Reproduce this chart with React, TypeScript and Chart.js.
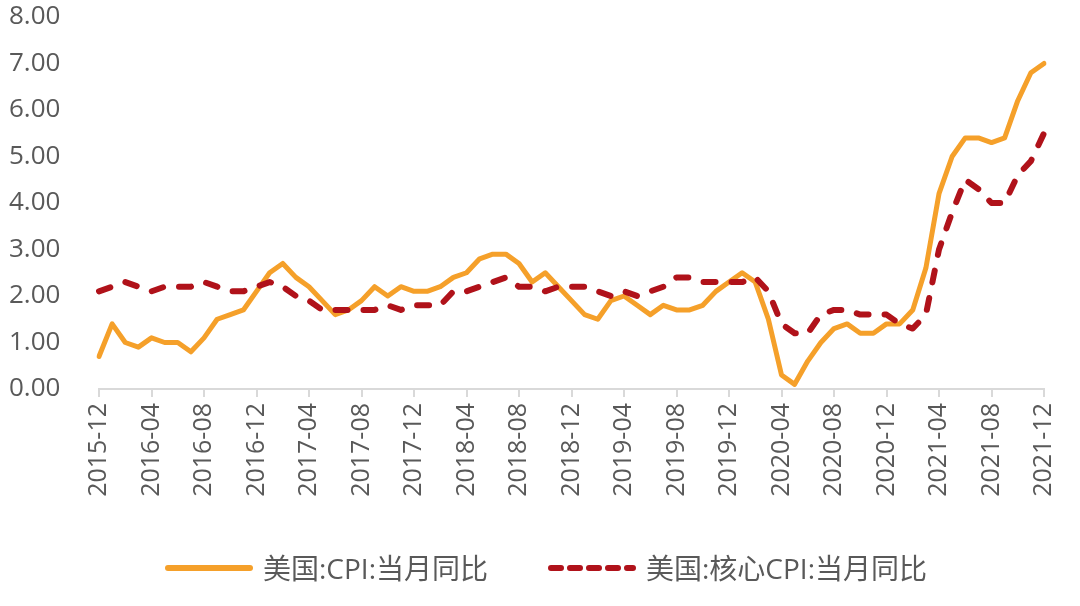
import React, { useEffect, useRef } from "react";
import { Chart, registerables } from "chart.js";

Chart.register(...registerables);

const months: string[] = [
  "2015-12",
  "2016-01", "2016-02", "2016-03", "2016-04", "2016-05", "2016-06", "2016-07", "2016-08", "2016-09", "2016-10", "2016-11", "2016-12",
  "2017-01", "2017-02", "2017-03", "2017-04", "2017-05", "2017-06", "2017-07", "2017-08", "2017-09", "2017-10", "2017-11", "2017-12",
  "2018-01", "2018-02", "2018-03", "2018-04", "2018-05", "2018-06", "2018-07", "2018-08", "2018-09", "2018-10", "2018-11", "2018-12",
  "2019-01", "2019-02", "2019-03", "2019-04", "2019-05", "2019-06", "2019-07", "2019-08", "2019-09", "2019-10", "2019-11", "2019-12",
  "2020-01", "2020-02", "2020-03", "2020-04", "2020-05", "2020-06", "2020-07", "2020-08", "2020-09", "2020-10", "2020-11", "2020-12",
  "2021-01", "2021-02", "2021-03", "2021-04", "2021-05", "2021-06", "2021-07", "2021-08", "2021-09", "2021-10", "2021-11", "2021-12",
];

const cpiYoY: number[] = [
  0.7,
  1.4, 1.0, 0.9, 1.1, 1.0, 1.0, 0.8, 1.1, 1.5, 1.6, 1.7, 2.1,
  2.5, 2.7, 2.4, 2.2, 1.9, 1.6, 1.7, 1.9, 2.2, 2.0, 2.2, 2.1,
  2.1, 2.2, 2.4, 2.5, 2.8, 2.9, 2.9, 2.7, 2.3, 2.5, 2.2, 1.9,
  1.6, 1.5, 1.9, 2.0, 1.8, 1.6, 1.8, 1.7, 1.7, 1.8, 2.1, 2.3,
  2.5, 2.3, 1.5, 0.3, 0.1, 0.6, 1.0, 1.3, 1.4, 1.2, 1.2, 1.4,
  1.4, 1.7, 2.6, 4.2, 5.0, 5.4, 5.4, 5.3, 5.4, 6.2, 6.8, 7.0,
];

const coreCpiYoY: number[] = [
  2.1,
  2.2, 2.3, 2.2, 2.1, 2.2, 2.2, 2.2, 2.3, 2.2, 2.1, 2.1, 2.2,
  2.3, 2.2, 2.0, 1.9, 1.7, 1.7, 1.7, 1.7, 1.7, 1.8, 1.7, 1.8,
  1.8, 1.8, 2.1, 2.1, 2.2, 2.3, 2.4, 2.2, 2.2, 2.1, 2.2, 2.2,
  2.2, 2.1, 2.0, 2.1, 2.0, 2.1, 2.2, 2.4, 2.4, 2.3, 2.3, 2.3,
  2.3, 2.4, 2.1, 1.4, 1.2, 1.2, 1.6, 1.7, 1.7, 1.6, 1.6, 1.6,
  1.4, 1.3, 1.6, 3.0, 3.8, 4.5, 4.3, 4.0, 4.0, 4.6, 4.9, 5.5,
];

const seriesNames: string[] = ["美国:CPI:当月同比", "美国:核心CPI:当月同比"];

const ORANGE = "#F5A02A";
const RED = "#B0121A";
const TEXT = "#595959";
const AXIS = "#D9D9D9";
const FONT = "'Open Sans', 'Noto Sans CJK SC', sans-serif";

export default function App() {
  const ref = useRef<HTMLCanvasElement | null>(null);

  useEffect(() => {
    document.body.style.margin = "0";
    const canvas = ref.current;
    if (!canvas) return;
    const chart = new Chart(canvas, {
      type: "line",
      data: {
        labels: months,
        datasets: [
          {
            label: seriesNames[0],
            data: cpiYoY,
            borderColor: ORANGE,
            backgroundColor: ORANGE,
            borderWidth: 5,
            pointRadius: 0,
            tension: 0,
            borderJoinStyle: "round",
            borderCapStyle: "round",
            order: 1,
          },
          {
            label: seriesNames[1],
            data: coreCpiYoY,
            borderColor: RED,
            backgroundColor: RED,
            borderWidth: 6,
            borderDash: [12, 16],
            borderCapStyle: "round",
            borderJoinStyle: "round",
            pointRadius: 0,
            tension: 0,
            order: 0,
          },
        ],
      },
      options: {
        animation: false,
        responsive: false,
        layout: { padding: { top: 17, right: 33, bottom: 97, left: 9 } },
        plugins: {
          legend: { display: false },
          tooltip: { enabled: false },
        },
        scales: {
          x: {
            type: "category",
            offset: false,
            grid: {
              display: true,
              drawOnChartArea: false,
              drawTicks: true,
              tickLength: 8,
              color: AXIS,
              lineWidth: 2,
            },
            border: { display: true, color: AXIS, width: 2 },
            ticks: {
              autoSkip: false,
              maxRotation: 90,
              minRotation: 90,
              padding: 6,
              color: TEXT,
              font: { family: FONT, size: 25 },
              callback: (_v: any, i: number) => (i % 4 === 0 ? months[i] : null),
            },
            afterFit: (scale: any) => {
              scale.height = 120;
            },
          },
          y: {
            min: 0,
            max: 8,
            grid: { display: false, drawTicks: false },
            border: { display: false },
            ticks: {
              stepSize: 1,
              padding: 0,
              crossAlign: "far",
              color: TEXT,
              font: { family: FONT, size: 26 },
              callback: (v: any) => Number(v).toFixed(2),
            },
            afterFit: (scale: any) => {
              scale.width = 90;
            },
          },
        },
      },
    });
    return () => chart.destroy();
  }, []);

  const legendText: React.CSSProperties = {
    fontFamily: FONT,
    fontSize: 28,
    color: TEXT,
    marginLeft: 10,
    lineHeight: "34px",
    whiteSpace: "nowrap",
  };

  return (
    <div style={{ position: "relative", width: 1080, height: 606, background: "#fff" }}>
      <canvas ref={ref} width={1080} height={606} style={{ position: "absolute", left: 0, top: 0 }} />
      <div
        style={{
          position: "absolute",
          left: 165,
          top: 551,
          display: "flex",
          alignItems: "center",
        }}
      >
        <svg width={88} height={12}>
          <line x1={3} y1={6} x2={85} y2={6} stroke={ORANGE} strokeWidth={6} strokeLinecap="round" />
        </svg>
        <span style={legendText}>{seriesNames[0]}</span>
        <svg width={88} height={12} style={{ marginLeft: 60 }}>
          <line
            x1={3}
            y1={6}
            x2={85}
            y2={6}
            stroke={RED}
            strokeWidth={6}
            strokeDasharray="10 9"
            strokeLinecap="round"
          />
        </svg>
        <span style={legendText}>{seriesNames[1]}</span>
      </div>
    </div>
  );
}
